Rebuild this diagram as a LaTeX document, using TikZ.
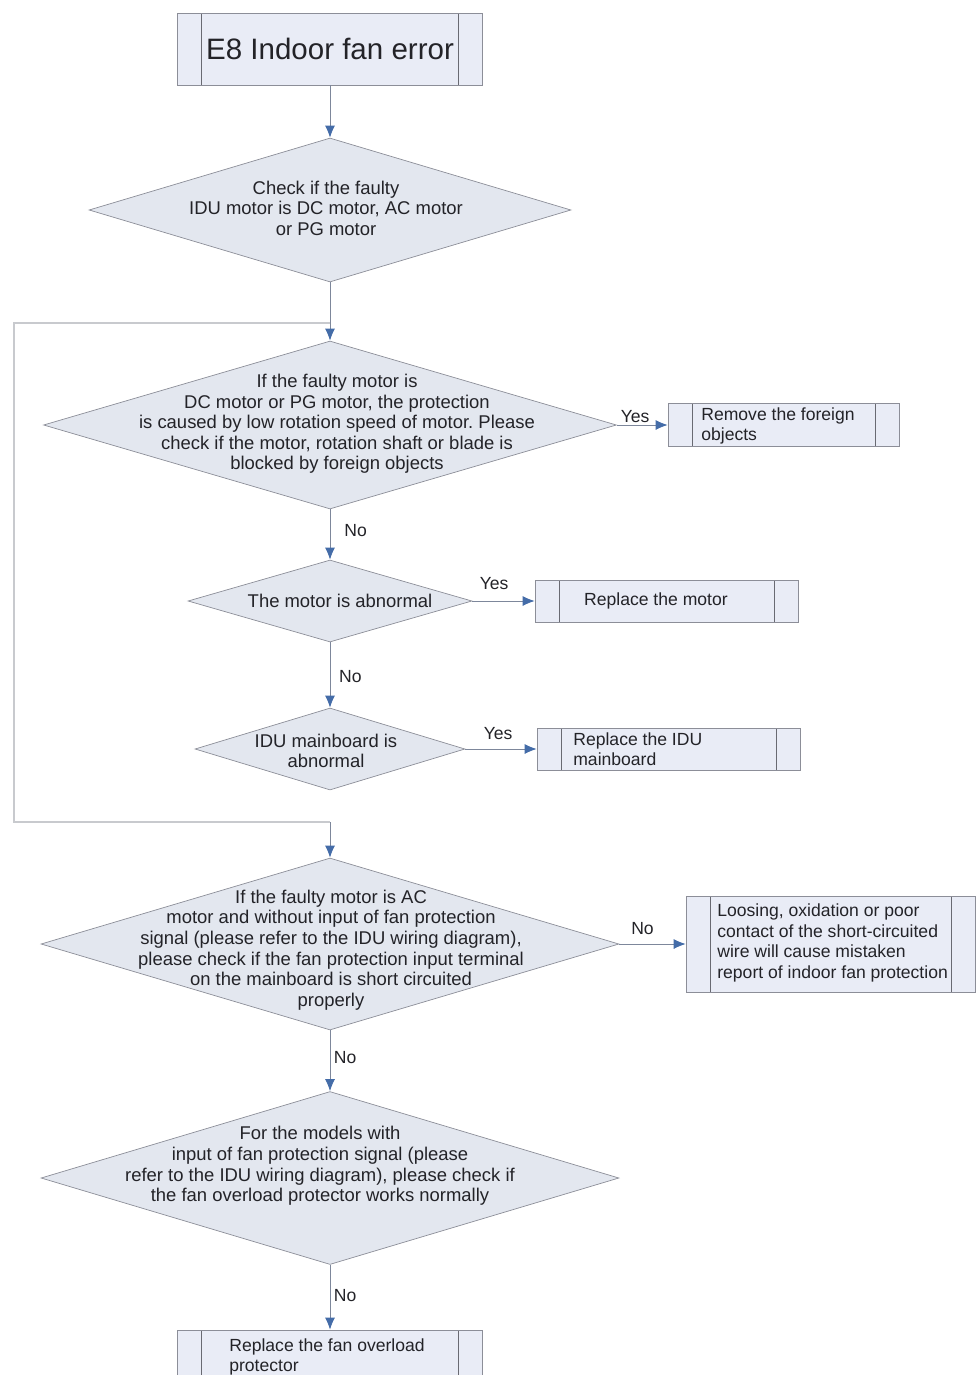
\documentclass[tikz,border=0pt]{standalone}
\usepackage{fontspec}
\setmainfont{Liberation Sans}
\frenchspacing
\usetikzlibrary{arrows.meta,shapes.geometric,positioning}
\definecolor{boxfill}{RGB}{233,236,246}
\definecolor{decfill}{RGB}{227,231,239}
\definecolor{rimgrey}{RGB}{140,142,152}
\definecolor{wiregrey}{RGB}{125,135,155}
\definecolor{tipblue}{RGB}{68,108,168}
\definecolor{loopgrey}{RGB}{200,202,206}
\definecolor{inkgrey}{RGB}{35,35,40}
\tikzset{
  stepbox/.style={rectangle,draw=rimgrey,fill=boxfill,inner sep=0pt,
    align=center,text=inkgrey,
    path picture={\draw[draw=rimgrey!75!black]
      ([xshift=.48cm]path picture bounding box.north west) --
      ([xshift=.48cm]path picture bounding box.south west)
      ([xshift=-.48cm]path picture bounding box.north east) --
      ([xshift=-.48cm]path picture bounding box.south east);}},
  decision/.style={diamond,draw=rimgrey,fill=decfill,inner sep=0pt},
  flow/.style={-{Latex[length=2.4mm,width=2mm,color=tipblue]},
    draw=wiregrey,line width=.5pt}}

\begin{document}
\begin{tikzpicture}[x=0.02cm,y=-0.02cm,
  txt/.style={font=\fontsize{10}{11.7}\selectfont,text=inkgrey},
  dectext/.style={txt,font=\fontsize{10.5}{11.7}\selectfont,
    align=center,inner sep=0pt},
  boxtext/.style={txt,align=left,inner sep=0pt,anchor=west},
  edgelabel/.style={txt,inner sep=1pt},
  bypass/.style={draw=loopgrey,line width=1pt}]

  \useasboundingbox (0,0) rectangle (977,1375);

  \node[stepbox,minimum width=6.1cm,minimum height=1.44cm,
    font=\fontsize{16.8}{19}\selectfont] (start) at (330,49)
    {E8 Indoor fan error};

  \node[decision,minimum width=9.64cm,minimum height=2.88cm] (d1) at (330,210) {};
  \node[dectext] (d1t) at (326,208)
    {Check if the faulty\\IDU motor is DC motor, AC motor\\or PG motor};

  \node[decision,minimum width=11.46cm,minimum height=3.36cm] (d2) at (330,425) {};
  \node[dectext] (d2t) at (337,424)
    {If the faulty motor is\\
     DC motor or PG motor, the protection\\
     is caused by low rotation speed of motor. Please\\
     check if the motor, rotation shaft or blade is\\
     blocked by foreign objects};
  \node[stepbox,minimum width=4.62cm,minimum height=0.86cm] (rm) at (783.5,425) {};
  \node[boxtext] (rmt) at (701,426) {Remove the foreign\\objects};

  \node[decision,minimum width=5.68cm,minimum height=1.64cm] (d3) at (330,601) {};
  \node[dectext] (d3t) at (340,601) {The motor is abnormal};
  \node[stepbox,txt,minimum width=5.26cm,minimum height=0.84cm] (motor) at (666.5,601)
    {\hspace*{-12pt}Replace the motor};

  \node[decision,minimum width=5.4cm,minimum height=1.64cm] (d4) at (330,749) {};
  \node[dectext] (d4t) at (326,751) {IDU mainboard is\\abnormal};
  \node[stepbox,minimum width=5.26cm,minimum height=0.84cm] (idu) at (668.5,749) {};
  \node[boxtext] (idut) at (573,749) {Replace the IDU\\mainboard};

  \coordinate (j1) at (330,323);
  \coordinate (loopl) at (14,323);
  \coordinate (j2) at (330,822);

  \node[decision,minimum width=11.56cm,minimum height=3.44cm] (d5) at (330,944) {};
  \node[dectext] (d5t) at (331,950)
    {If the faulty motor is AC\\
     motor and without input of fan protection\\
     signal (please refer to the IDU wiring diagram),\\
     please check if the fan protection input terminal\\
     on the mainboard is short circuited\\
     properly};
  \node[stepbox,minimum width=5.78cm,minimum height=1.92cm] (wire) at (830.5,944) {};
  \node[boxtext] (wiret) at (717,943)
    {Loosing, oxidation or poor\\
     contact of the short-circuited\\
     wire will cause mistaken\\
     report of indoor fan protection};

  \node[decision,minimum width=11.56cm,minimum height=3.46cm] (d6) at (330,1178) {};
  \node[dectext] (d6t) at (320,1166)
    {For the models with\\
     input of fan protection signal (please\\
     refer to the IDU wiring diagram), please check if\\
     the fan overload protector works normally};
  \node[stepbox,minimum width=6.1cm,minimum height=1.08cm] (fan) at (330,1357) {};
  \node[boxtext] (fant) at (229,1357) {Replace the fan overload\\protector};

  \draw[flow] (start) -- (d1);
  \draw[flow] (d1.south) -- (d2.north);
  \draw[flow] (d2.east) -- node[edgelabel,pos=.36,above] {Yes} (rm.west);
  \draw[flow] (d2.south) -- node[edgelabel,pos=.42,right=7pt] {No} (d3.north);
  \draw[flow] (d3.east) -- node[edgelabel,pos=.35,above=5pt] {Yes} (motor.west);
  \draw[flow] (d3.south) -- node[edgelabel,pos=.52,right=4pt] {No} (d4.north);
  \draw[flow] (d4.east) -- node[edgelabel,pos=.46,above=4pt] {Yes} (idu.west);
  \draw[bypass] (j1) -- (loopl) |- (j2);
  \draw[flow] (j2) -- (d5.north);
  \draw[flow] (d5.east) -- node[edgelabel,pos=.35,above=4pt] {No} (wire.west);
  \draw[flow] (d5.south) -- node[edgelabel,pos=.45,right=1pt] {No} (d6.north);
  \draw[flow] (d6.south) -- node[edgelabel,pos=.48,right=1pt] {No} (fan.north);
\end{tikzpicture}
\end{document}
